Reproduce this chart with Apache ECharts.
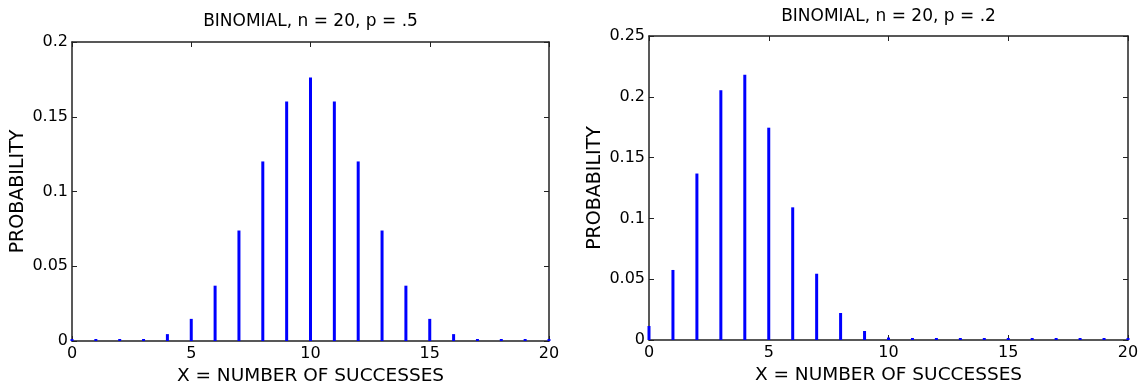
<!DOCTYPE html>
<html><head><meta charset="utf-8">
<script src="https://cdn.jsdelivr.net/npm/echarts@6/dist/echarts.min.js"></script>
<style>html,body{margin:0;padding:0;background:#fff}#c{width:1145px;height:383px}</style>
</head><body><div id="c"></div>
<script>
const xs = [0,1,2,3,4,5,6,7,8,9,10,11,12,13,14,15,16,17,18,19,20];
const probHalf = [0.000001,0.00002,0.0002,0.0011,0.0046,0.0148,0.037,0.0739,0.1201,0.1602,0.1762,0.1602,0.1201,0.0739,0.037,0.0148,0.0046,0.0011,0.0002,0.00002,0.000001];
const probFifth = [0.0115,0.0576,0.1369,0.2054,0.2182,0.1746,0.1091,0.0545,0.0222,0.0074,0.002,0.0005,0.0001,0.00002,0.000003,0,0,0,0,0,0];
const titles = ['BINOMIAL, n = 20, p = .5','BINOMIAL, n = 20, p = .2'];
const yMax = [0.2, 0.25];
const xLabel = 'X = NUMBER OF SUCCESSES';
const yLabel = 'PROBABILITY';

const font = 'DejaVu Sans, sans-serif';
const grids = [
  {left:72, top:42, width:477, height:299, outerBoundsMode:'none', containLabel:false},
  {left:649, top:36, width:479, height:304, outerBoundsMode:'none', containLabel:false}
];
const axisLine = {show:true, onZero:false, lineStyle:{color:'#222', width:1.5}};
const tick = {show:true, inside:true, length:5, lineStyle:{color:'#222', width:1}};
const xAxes = [], yAxes = [], series = [], titleArr = [];
[probHalf, probFifth].forEach((vals, i) => {
  const g = grids[i];
  titleArr.push({text:titles[i], left:g.left + g.width/2, textAlign:'center', top: i===0 ? 13 : 8, padding:0,
    textStyle:{fontFamily:font, fontSize:17, fontWeight:'normal', color:'#000'}});
  xAxes.push({type:'value', gridIndex:i, min:0, max:20, interval:5, position:'bottom',
    name:xLabel, nameLocation:'middle', nameGap:22,
    nameTextStyle:{fontFamily:font, fontSize:18.5, color:'#000'},
    axisLine:axisLine, axisTick:tick, splitLine:{show:false},
    axisLabel:{fontFamily:font, fontSize:16, color:'#000', margin:5}});
  xAxes.push({type:'value', gridIndex:i, min:0, max:20, interval:5, position:'top',
    axisLine:axisLine, axisTick:tick, splitLine:{show:false}, axisLabel:{show:false}});
  yAxes.push({type:'value', gridIndex:i, min:0, max:yMax[i], interval:0.05, position:'left',
    name:yLabel, nameLocation:'middle', nameGap:44,
    nameTextStyle:{fontFamily:font, fontSize:19, color:'#000'},
    axisLine:axisLine, axisTick:tick, splitLine:{show:false},
    axisLabel:{fontFamily:font, fontSize:16, color:'#000', margin:4,
      formatter: v => v===0 ? '0' : String(+v.toFixed(2))}});
  yAxes.push({type:'value', gridIndex:i, min:0, max:yMax[i], interval:0.05, position:'right',
    axisLine:axisLine, axisTick:tick, splitLine:{show:false}, axisLabel:{show:false}});
  series.push({type:'bar', xAxisIndex:i*2, yAxisIndex:i*2, barWidth:3, barMinHeight:2,
    itemStyle:{color:'#0000ff'}, silent:true, animation:false,
    data: xs.map((x,k) => [x, vals[k]])});
});
const chart = echarts.init(document.getElementById('c'), null, {renderer:'canvas'});
chart.setOption({animation:false, title:titleArr, grid:grids, xAxis:xAxes, yAxis:yAxes, series:series});
</script></body></html>
